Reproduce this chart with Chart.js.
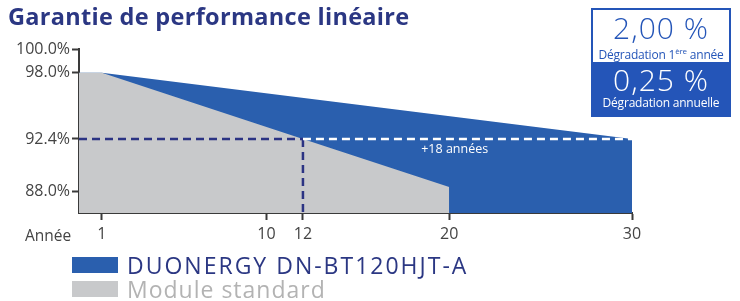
<!DOCTYPE html>
<html>
<head>
<meta charset="utf-8">
<script src="https://cdn.jsdelivr.net/npm/chart.js@4/dist/chart.umd.min.js"></script>
<style>
  body { margin: 0; background: #fff; font-family: "Open Sans", sans-serif; }
  #wrap { position: relative; width: 740px; height: 301px; overflow: hidden; }
  #title { position: absolute; left: 8px; top: 0px; font-size: 23.5px; font-weight: 700; color: #2b3783; white-space: nowrap; letter-spacing: 0.3px; }
  #box { position: absolute; left: 591px; top: 8px; width: 140px; height: 109px; border: 2px solid #2455b8; box-sizing: border-box; text-align: center; }
  #box .top { height: 52px; color: #2455b8; background: #fff; }
  #box .bot { height: 53px; color: #fff; background: #2455b8; }
  #box .big { font-size: 30px; font-weight: 300; line-height: 32px; padding-top: 2px; letter-spacing: 1px; }
  #box .small { font-size: 12px; line-height: 14px; letter-spacing: -0.2px; }
  #box sup { font-size: 8px; }
  canvas { position: absolute; left: 0; top: 0; }
  #legend { position: absolute; left: 72px; top: 253px; }
  .item { display: flex; align-items: center; height: 24px; }
  .sw { width: 46px; height: 16px; margin-right: 9px; }
  .lab { font-size: 23px; line-height: 24px; white-space: nowrap; }
</style>
</head>
<body>
<div id="wrap">
  <canvas id="myChart" width="740" height="250"></canvas>
  <div id="title">Garantie de performance linéaire</div>
  <div id="box">
    <div class="top"><div class="big">2,00 %</div><div class="small">Dégradation 1<sup>ère</sup> année</div></div>
    <div class="bot"><div class="big">0,25 %</div><div class="small">Dégradation annuelle</div></div>
  </div>
  <div id="legend"></div>
</div>
<script>
const seriesNames = ['DUONERGY DN-BT120HJT-A', 'Module standard'];
const seriesColors = ['#2a5fae', '#c8c9cb'];
const legendTextColors = ['#2b3783', '#b3b3b3'];
const legendSpacing = [2, 1];

// years / performance (%)
const duoYears = [-0.25, 1, 30];
const duoValues = [98, 98, 92.4];
const stdYears = [-0.25, 1, 12, 20];
const stdValues = [98, 98, 92.4, 88.35];

const xTicks = [1, 10, 12, 20, 30];
const yTicks = [88, 92.4, 98, 100];
const guarantee = 92.4;
const crossYear = 12;
const endYear = 30;
const startYear = -0.25;
const yMin = 86.15;

const navy = '#2b3383';
const axisColor = '#3a3a3a';

let legend = document.getElementById('legend');
seriesNames.forEach((n, i) => {
  legend.innerHTML += `
    <div class="item">
      <div class="sw" style="background:${seriesColors[i]}"></div>
      <div class="lab" style="color:${legendTextColors[i]};letter-spacing:${legendSpacing[i]}px">${n}</div>
    </div>`;
});

const pts = (xs, ys) => xs.map((x, i) => ({ x: x, y: ys[i] }));

const extras = {
  id: 'extras',
  afterDatasetsDraw(chart) {
    const ctx = chart.ctx;
    const xs = chart.scales.x;
    const ys = chart.scales.y;
    ctx.save();
    ctx.fillStyle = '#ffffff';
    ctx.font = '12.5px "Open Sans"';
    ctx.textAlign = 'center';
    ctx.textBaseline = 'middle';
    ctx.fillText('+' + (endYear - crossYear) + ' années', xs.getPixelForValue(20.3), ys.getPixelForValue(guarantee) + 10);
    ctx.fillStyle = '#444';
    ctx.font = '15.5px "Open Sans"';
    ctx.textAlign = 'left';
    ctx.fillText('Année', 25, 237);
    ctx.restore();
  }
};

const ctx = document.getElementById('myChart');

new Chart(ctx, {
  type: 'scatter',
  data: {
    datasets: [
      {
        label: 'guarantee-left',
        data: pts([startYear, crossYear], [guarantee, guarantee]),
        showLine: true,
        borderColor: navy,
        borderWidth: 2.5,
        borderDash: [8, 5],
        pointRadius: 0,
        order: 0,
      },
      {
        label: 'guarantee-right',
        data: pts([crossYear, endYear], [guarantee, guarantee]),
        showLine: true,
        borderColor: '#ffffff',
        borderWidth: 2.5,
        borderDash: [8, 5],
        pointRadius: 0,
        order: 0,
      },
      {
        label: 'cross',
        data: pts([crossYear, crossYear], [guarantee, yMin]),
        showLine: true,
        borderColor: navy,
        borderWidth: 2.5,
        borderDash: [8, 5],
        pointRadius: 0,
        order: 0,
      },
      {
        label: seriesNames[1],
        data: pts(stdYears, stdValues),
        showLine: true,
        borderWidth: 0,
        backgroundColor: seriesColors[1],
        fill: 'start',
        pointRadius: 0,
        order: 1,
      },
      {
        label: seriesNames[0],
        data: pts(duoYears, duoValues),
        showLine: true,
        borderWidth: 0,
        backgroundColor: seriesColors[0],
        fill: 'start',
        pointRadius: 0,
        order: 2,
      },
    ],
  },
  options: {
    responsive: false,
    animation: false,
    layout: { padding: { left: 0, right: 108, top: 49, bottom: 0 } },
    plugins: { legend: { display: false }, tooltip: { enabled: false } },
    scales: {
      x: {
        type: 'linear',
        min: startYear,
        max: endYear,
        afterBuildTicks: (s) => { s.ticks = xTicks.map((v) => ({ value: v })); },
        afterFit: (s) => { s.height = 37; },
        border: { display: true, color: axisColor, width: 2 },
        grid: { drawOnChartArea: false, drawTicks: true, tickLength: 7, tickColor: axisColor, tickWidth: 2 },
        ticks: { color: '#444', font: { family: 'Open Sans', size: 16 }, padding: 5, maxRotation: 0, autoSkip: false },
      },
      y: {
        type: 'linear',
        min: yMin,
        max: 100,
        afterBuildTicks: (s) => { s.ticks = yTicks.map((v) => ({ value: v })); },
        afterFit: (s) => { s.width = 79; },
        border: { display: true, color: axisColor, width: 2 },
        grid: { drawOnChartArea: false, drawTicks: true, tickLength: 7, tickColor: axisColor, tickWidth: 2 },
        ticks: { color: '#444', font: { family: 'Open Sans', size: 16 }, padding: 2, autoSkip: false,
          callback: (v) => v.toFixed(1) + '%' },
      },
    },
  },
  plugins: [extras],
});
</script>
</body>
</html>
